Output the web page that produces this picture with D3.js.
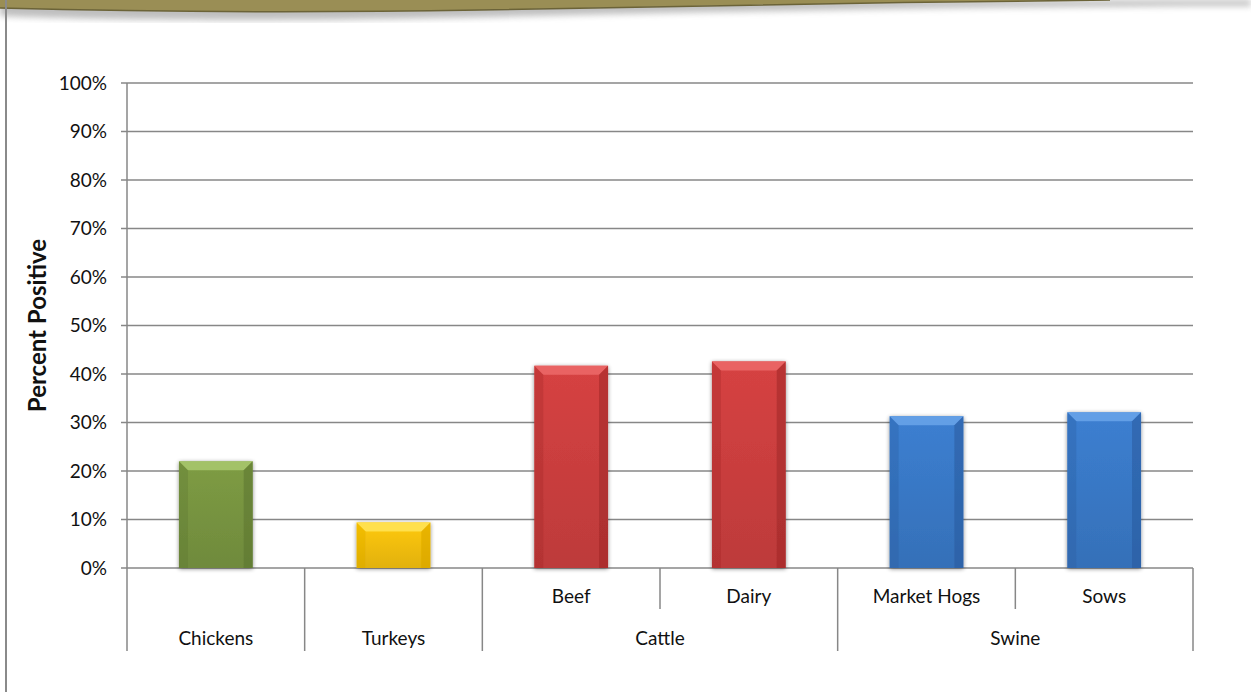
<!DOCTYPE html>
<html>
<head>
<meta charset="utf-8">
<script src="https://cdn.jsdelivr.net/npm/d3@7/dist/d3.min.js"></script>
<style>
  html, body { margin: 0; padding: 0; background: #fff; }
  svg { display: block; font-family: Lato, "Open Sans", sans-serif; }
</style>
</head>
<body>
<svg id="chart" width="1251" height="692"></svg>
<script>
// Percent of positive samples by animal type
const categories = ["Chickens", "Turkeys", "Beef", "Dairy", "Market Hogs", "Sows"];
const values = [22.0, 9.4, 41.7, 42.6, 31.3, 32.1];
const groups = ["Chickens", "Turkeys", "Cattle", "Cattle", "Swine", "Swine"];
const subLabels = ["", "", "Beef", "Dairy", "Market Hogs", "Sows"];
const yTicks = [0, 10, 20, 30, 40, 50, 60, 70, 80, 90, 100];

// colour family per bar: [main, light top, dark edge]
const palette = {
  Chickens: ["#7e9c44", "#a9c96e", "#5b7530"],
  Turkeys: ["#ffc90a", "#ffe45a", "#d9a400"],
  Cattle: ["#d64242", "#ec6a6a", "#9e2626"],
  Swine: ["#3c7fd1", "#6aa5ea", "#285a9c"]
};

const svg = d3.select("#chart");
const W = 1251, H = 692;
const margin = { left: 127, right: 58, top: 83, bottom: 124 };
const plotW = W - margin.left - margin.right;
const plotH = H - margin.top - margin.bottom;
const x0 = margin.left, y0 = margin.top, yBase = margin.top + plotH;
const labelSize = 19;

const defs = svg.append("defs");

// top banner
defs.append("filter").attr("id", "soft").append("feGaussianBlur").attr("stdDeviation", 3);

svg.append("path")
  .attr("d", "M0,0 L1251,0 L1251,6 C1000,6 700,12 450,18 C250,22 100,20 0,16 Z")
  .attr("fill", "#8a8a8a").attr("opacity", 0.55).attr("filter", "url(#soft)");
svg.append("path")
  .attr("d", "M0,0 L1110,0 C900,2 700,6 480,10 C300,13 150,12 0,8 Z")
  .attr("fill", "#9a8e55");
svg.append("path")
  .attr("d", "M1110,0 C900,2 700,6 480,10 C300,13 150,12 0,8")
  .attr("fill", "none").attr("stroke", "#6b6338").attr("stroke-width", 1.5);

// left frame line
svg.append("line").attr("x1", 6).attr("x2", 6).attr("y1", 0).attr("y2", H)
  .attr("stroke", "#8a8a8a").attr("stroke-width", 2);

// scales
const x = d3.scaleBand().domain(categories).range([x0, x0 + plotW]).paddingInner(0).paddingOuter(0);
const y = d3.scaleLinear().domain([0, 100]).range([yBase, y0]);
const barW = x.bandwidth() * 0.415;

// gridlines
svg.append("g").selectAll("line").data(yTicks).join("line")
  .attr("x1", x0 - 6).attr("x2", x0 + plotW)
  .attr("y1", d => y(d)).attr("y2", d => y(d))
  .attr("stroke", "#878787").attr("stroke-width", 1.5);

// y axis line
svg.append("line").attr("x1", x0).attr("x2", x0).attr("y1", y0).attr("y2", yBase + 83)
  .attr("stroke", "#878787").attr("stroke-width", 1.5);

// y tick labels
svg.append("g").selectAll("text").data(yTicks).join("text")
  .attr("x", x0 - 20).attr("y", d => y(d)).attr("dy", "0.35em")
  .attr("text-anchor", "end").attr("font-size", labelSize).attr("fill", "#111")
  .text(d => d + "%");

// y axis title
svg.append("text")
  .attr("transform", `translate(46,${(y0 + yBase) / 2}) rotate(-90)`)
  .attr("text-anchor", "middle").attr("font-size", 24).attr("font-weight", "bold").attr("fill", "#111")
  .text("Percent Positive");

// bar shadow
const sh = defs.append("filter").attr("id", "barShadow").attr("x", "-20%").attr("y", "-10%").attr("width", "140%").attr("height", "130%");
sh.append("feGaussianBlur").attr("in", "SourceAlpha").attr("stdDeviation", 2.2);
sh.append("feOffset").attr("dx", 0).attr("dy", 1).attr("result", "b");
sh.append("feComponentTransfer").append("feFuncA").attr("type", "linear").attr("slope", 0.45);
const mg = sh.append("feMerge");
mg.append("feMergeNode");
mg.append("feMergeNode").attr("in", "SourceGraphic");

// per-family gradients
Object.entries(palette).forEach(([k, c]) => {
  const g = defs.append("linearGradient").attr("id", "g-" + k)
    .attr("x1", 0).attr("y1", 0).attr("x2", 0).attr("y2", 1);
  g.append("stop").attr("offset", 0).attr("stop-color", c[0]);
  g.append("stop").attr("offset", 1).attr("stop-color", d3.color(c[0]).darker(0.35));
});

const bevel = 9;
const bars = svg.append("g").selectAll("g").data(categories).join("g")
  .attr("filter", "url(#barShadow)");

bars.each(function (cat, i) {
  const g = d3.select(this);
  const fam = groups[i];
  const c = palette[fam];
  const bx = x(cat) + (x.bandwidth() - barW) / 2;
  const by = y(values[i]);
  const bh = yBase - by;
  const bv = Math.min(bevel, bh / 2);
  g.append("rect").attr("x", bx).attr("y", by).attr("width", barW).attr("height", bh)
    .attr("fill", `url(#g-${fam})`);
  // top bevel
  g.append("path")
    .attr("d", `M${bx},${by} L${bx + barW},${by} L${bx + barW - bv},${by + bv} L${bx + bv},${by + bv} Z`)
    .attr("fill", c[1]).attr("opacity", 0.85);
  // left bevel
  g.append("path")
    .attr("d", `M${bx},${by} L${bx + bv},${by + bv} L${bx + bv},${yBase} L${bx},${yBase} Z`)
    .attr("fill", c[2]).attr("opacity", 0.3);
  // right bevel
  g.append("path")
    .attr("d", `M${bx + barW},${by} L${bx + barW - bv},${by + bv} L${bx + barW - bv},${yBase} L${bx + barW},${yBase} Z`)
    .attr("fill", c[2]).attr("opacity", 0.55);
});

// category axis separators: full height between groups, short within a group
const sepY1 = yBase, sepShort = yBase + 41, sepLong = yBase + 83;
const bounds = d3.range(categories.length + 1).map(i => {
  const xx = i < categories.length ? x(categories[i]) : x0 + plotW;
  const full = i === 0 || i === categories.length || groups[i] !== groups[i - 1];
  return { xx, full };
});
svg.append("g").selectAll("line").data(bounds.slice(1)).join("line")
  .attr("x1", d => d.xx).attr("x2", d => d.xx)
  .attr("y1", sepY1).attr("y2", d => d.full ? sepLong : sepShort)
  .attr("stroke", "#878787").attr("stroke-width", 1.5);

// sub-category labels
svg.append("g").selectAll("text").data(categories.map((c, i) => ({ c, i })).filter(d => subLabels[d.i]))
  .join("text")
  .attr("x", d => x(d.c) + x.bandwidth() / 2).attr("y", yBase + 28)
  .attr("dy", "0.35em").attr("text-anchor", "middle").attr("font-size", labelSize).attr("fill", "#111")
  .text(d => subLabels[d.i]);

// group labels
const groupNames = Array.from(new Set(groups));
svg.append("g").selectAll("text").data(groupNames).join("text")
  .attr("x", gname => {
    const idx = groups.map((g, i) => g === gname ? i : -1).filter(i => i >= 0);
    const a = x(categories[idx[0]]), b = x(categories[idx[idx.length - 1]]) + x.bandwidth();
    return (a + b) / 2;
  })
  .attr("y", yBase + 70).attr("dy", "0.35em").attr("text-anchor", "middle")
  .attr("font-size", labelSize).attr("fill", "#111")
  .text(d => d);
</script>
</body>
</html>
